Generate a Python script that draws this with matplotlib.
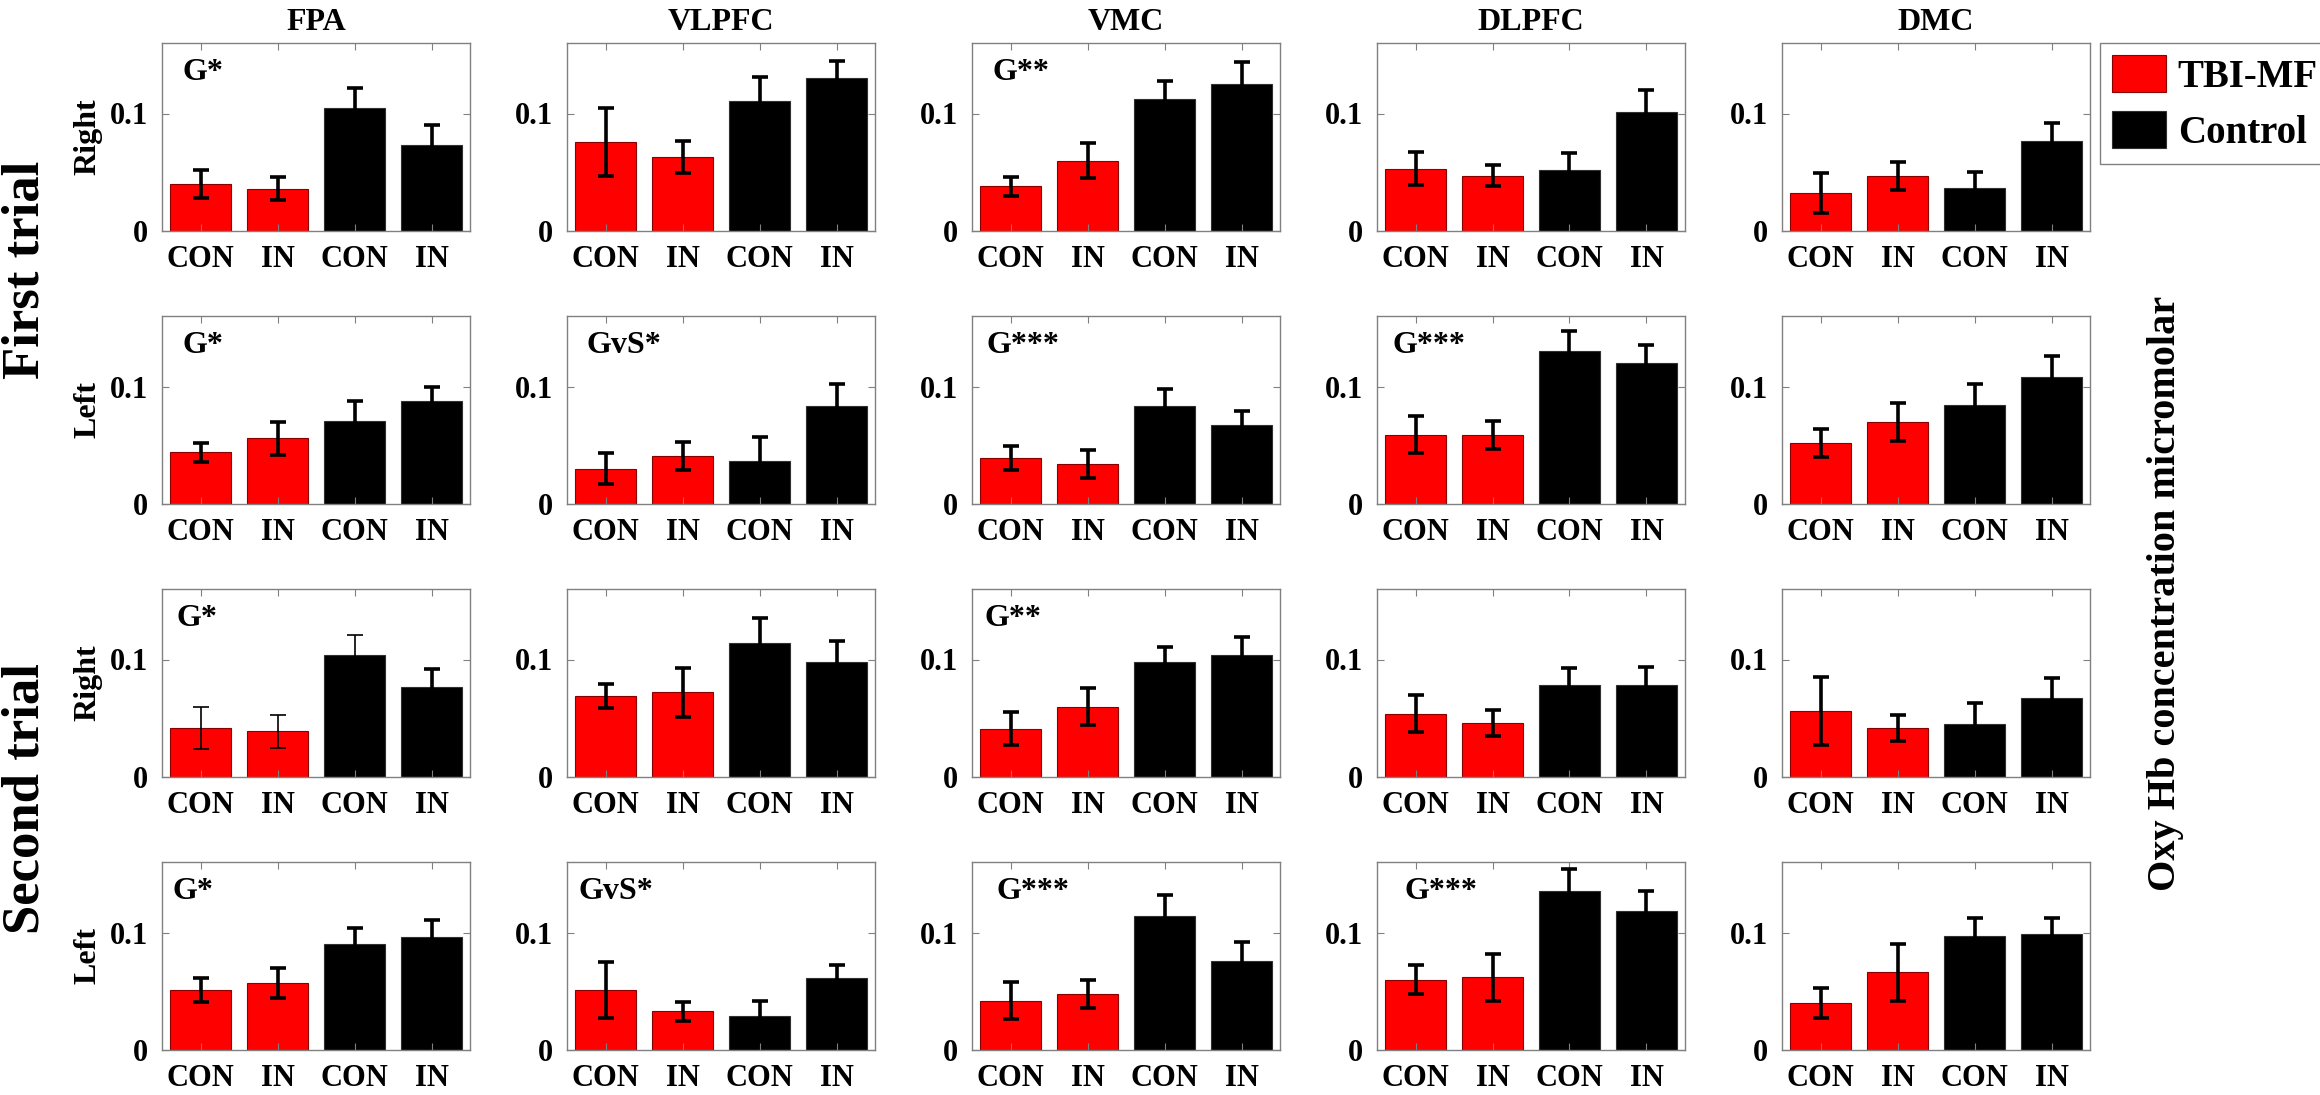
import numpy as np
import matplotlib
matplotlib.use('Agg')
import matplotlib.pyplot as plt

plt.rcParams['font.family'] = ['Liberation Serif', 'DejaVu Serif']
plt.rcParams['font.weight'] = 'bold'

regions = ['FPA', 'VLPFC', 'VMC', 'DLPFC', 'DMC']
row_names = ['Right', 'Left', 'Right', 'Left']
trials = ['First trial', 'Second trial']
conditions = ['CON', 'IN', 'CON', 'IN']
groups = ['TBI-MF', 'TBI-MF', 'Control', 'Control']

# mean values, rows = first/right, first/left, second/right, second/left
fpa_mean = [[0.040, 0.036, 0.105, 0.073],
            [0.044, 0.056, 0.071, 0.088],
            [0.042, 0.039, 0.104, 0.077],
            [0.051, 0.057, 0.090, 0.096]]
fpa_err = [[0.012, 0.010, 0.017, 0.017],
           [0.008, 0.014, 0.017, 0.012],
           [0.018, 0.014, 0.017, 0.015],
           [0.010, 0.013, 0.014, 0.015]]

vlpfc_mean = [[0.076, 0.063, 0.111, 0.130],
              [0.030, 0.041, 0.037, 0.083],
              [0.069, 0.072, 0.114, 0.098],
              [0.051, 0.033, 0.029, 0.061]]
vlpfc_err = [[0.029, 0.014, 0.020, 0.015],
             [0.013, 0.012, 0.020, 0.019],
             [0.010, 0.021, 0.021, 0.018],
             [0.024, 0.008, 0.013, 0.011]]

vmc_mean = [[0.038, 0.060, 0.112, 0.125],
            [0.039, 0.034, 0.083, 0.067],
            [0.041, 0.060, 0.098, 0.104],
            [0.042, 0.048, 0.114, 0.076]]
vmc_err = [[0.008, 0.015, 0.016, 0.019],
           [0.010, 0.012, 0.015, 0.012],
           [0.014, 0.016, 0.013, 0.015],
           [0.016, 0.012, 0.018, 0.016]]

dlpfc_mean = [[0.053, 0.047, 0.052, 0.101],
              [0.059, 0.059, 0.130, 0.120],
              [0.054, 0.046, 0.078, 0.078],
              [0.060, 0.062, 0.135, 0.118]]
dlpfc_err = [[0.014, 0.009, 0.014, 0.019],
             [0.016, 0.012, 0.017, 0.015],
             [0.016, 0.011, 0.015, 0.016],
             [0.012, 0.020, 0.019, 0.017]]

dmc_mean = [[0.032, 0.047, 0.037, 0.077],
            [0.052, 0.070, 0.084, 0.108],
            [0.056, 0.042, 0.045, 0.067],
            [0.040, 0.066, 0.097, 0.099]]
dmc_err = [[0.017, 0.012, 0.013, 0.015],
           [0.012, 0.016, 0.018, 0.018],
           [0.029, 0.011, 0.018, 0.017],
           [0.013, 0.024, 0.015, 0.013]]

means = [fpa_mean, vlpfc_mean, vmc_mean, dlpfc_mean, dmc_mean]
errs = [fpa_err, vlpfc_err, vmc_err, dlpfc_err, dmc_err]

# significance labels per (row, column)
sig = {(0, 0): 'G*', (1, 0): 'G*', (2, 0): 'G*', (3, 0): 'G*',
       (1, 1): 'GvS*', (3, 1): 'GvS*',
       (0, 2): 'G**', (1, 2): 'G***', (2, 2): 'G**', (3, 2): 'G***',
       (1, 3): 'G***', (3, 3): 'G***'}

colors = {'TBI-MF': '#ff0000', 'Control': '#000000'}
edges = {'TBI-MF': '#8a0000', 'Control': '#303030'}

W, H = 2320, 1095
fig = plt.figure(figsize=(W / 100, H / 100), dpi=100)

ax_left0, ax_w, col_step = 162, 308, 405
ax_top0, ax_h, row_step = 43, 188, 273
x = np.arange(1, 5)
sig_dx = {(2, 0): 15, (3, 0): 11, (1, 2): 15, (2, 2): 13, (3, 2): 25,
          (1, 3): 16, (3, 3): 28, (3, 1): 11}

axes = {}
for r in range(4):
    for c in range(5):
        l = ax_left0 + c * col_step
        t = ax_top0 + r * row_step
        ax = fig.add_axes([l / W, 1 - (t + ax_h) / H, ax_w / W, ax_h / H])
        axes[(r, c)] = ax
        m = means[c][r]
        e = errs[c][r]
        for i in range(4):
            g = groups[i]
            ax.bar(x[i], m[i], width=0.8, color=colors[g], edgecolor=edges[g],
                   linewidth=0.8, label=g if (r == 0 and c == 0) else None)
            lw = 1.2 if (c == 0 and r == 2 and i < 3) else 2.6
            ax.errorbar(x[i], m[i], yerr=e[i], fmt='none', ecolor='black',
                        elinewidth=lw, capsize=6, capthick=lw)
        ax.set_xlim(0.5, 4.5)
        ax.set_ylim(0, 0.16)
        ax.set_yticks([0, 0.1])
        ax.set_yticklabels(['0', '0.1'])
        ax.set_xticks(x)
        ax.set_xticklabels(conditions)
        ax.tick_params(direction='in', length=5, width=0.8, color='#808080',
                       top=True, right=True, labelsize=22, pad=10)
        for s in ax.spines.values():
            s.set_color('#808080')
            s.set_linewidth(1.0)
        if r == 0:
            ax.set_title(regions[c], fontsize=23, fontweight='bold', pad=9)
        if (r, c) in sig:
            dx = sig_dx.get((r, c), 20)
            ax.text(dx / ax_w, 0.92, sig[(r, c)], transform=ax.transAxes,
                    fontsize=23, fontweight='bold', ha='left', va='top')

# row labels
for r in range(4):
    yc = ax_top0 + r * row_step + ax_h / 2
    fig.text(88 / W, 1 - yc / H, row_names[r], rotation=90, fontsize=23,
             fontweight='bold', ha='center', va='center')

fig.text(26 / W, 1 - 270 / H, trials[0], rotation=90, fontsize=38,
         fontweight='bold', ha='center', va='center')
fig.text(26 / W, 1 - 799 / H, trials[1], rotation=90, fontsize=38,
         fontweight='bold', ha='center', va='center')

fig.text(2165 / W, 1 - 593 / H, 'Oxy Hb concentration micromolar', rotation=90,
         fontsize=29, fontweight='bold', ha='center', va='center')

h, lab = axes[(0, 0)].get_legend_handles_labels()
leg = fig.legend(h[:1] + h[2:3], [lab[0], lab[2]], loc='upper left',
                 bbox_to_anchor=(2100 / W, 1 - 43 / H), borderaxespad=0,
                 fontsize=28, handlelength=1.4, handleheight=1.1,
                 handletextpad=0.3, borderpad=0.3, labelspacing=0.4,
                 fancybox=False, edgecolor='#808080', framealpha=1)
leg.get_frame().set_linewidth(1.0)

fig.savefig('out.png', dpi=100)
